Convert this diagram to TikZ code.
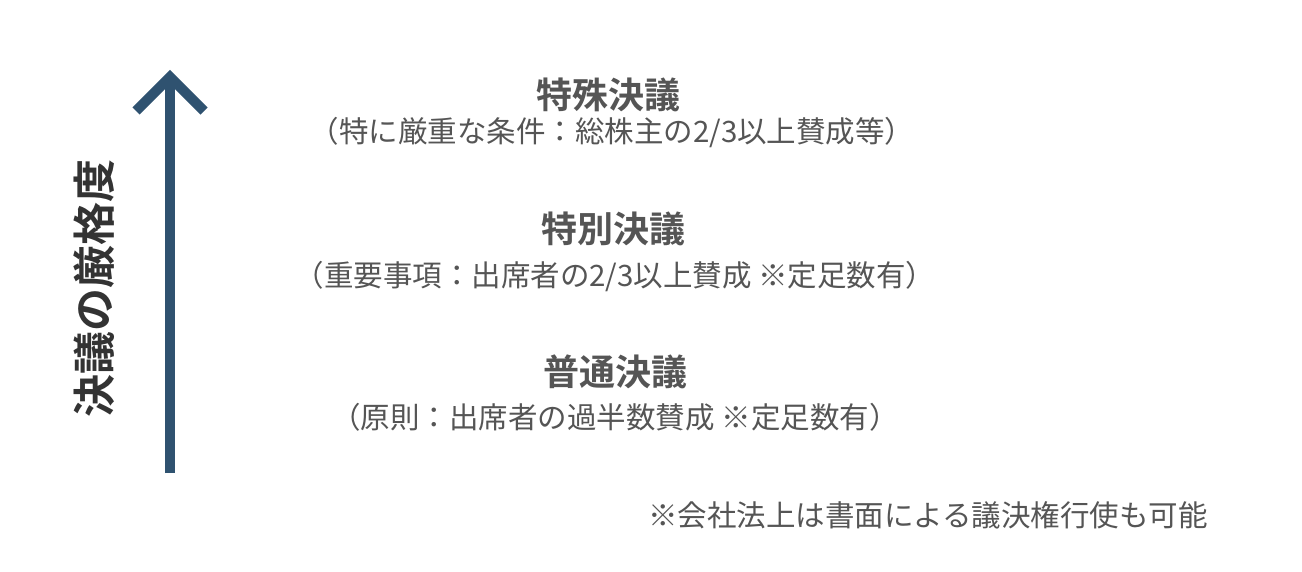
\documentclass[tikz,border=0pt]{standalone}
\usepackage{fontspec}
\newfontfamily\jp{Noto Sans CJK JP}
\newfontfamily\jpb{Noto Sans CJK JP Bold}
\definecolor{arrowblue}{HTML}{2F5270}
\definecolor{titlegray}{HTML}{555555}
\definecolor{subgray}{HTML}{555555}
\definecolor{labelgray}{HTML}{333333}
\begin{document}
\begin{tikzpicture}[x=1pt,y=1pt,
  title/.style={font=\jpb\fontsize{36}{40}\selectfont, text=titlegray, inner sep=0pt},
  sub/.style={font=\jp\fontsize{29.5}{33}\selectfont, text=subgray, inner sep=0pt},
  axis/.style={draw=arrowblue, line width=10pt}]
\useasboundingbox (0,0) rectangle (1302,-572);
\fill[white] (0,0) rectangle (1302,-572);
\coordinate (bottom) at (170,-473);
\coordinate (apex) at (170,-77);
\coordinate (barbL) at (136,-111);
\coordinate (barbR) at (204,-111);
\draw[axis] (bottom) -- (apex);
\draw[axis, line join=miter] (barbL) -- (apex) -- (barbR);
\node[font=\jpb\fontsize{43}{47}\selectfont, text=labelgray, rotate=90, inner sep=0pt] (lab) at (94,-288) {決議の厳格度};
\node[title] (t1) at (608,-95) {特殊決議};
\node[sub] (s1) at (612,-133) {（特に厳重な条件：総株主の2/3以上賛成等）};
\node[title] (t2) at (613,-229) {特別決議};
\node[sub] (s2) at (615,-277) {（重要事項：出席者の2/3以上賛成 ※定足数有）};
\node[title] (t3) at (615,-372) {普通決議};
\node[sub] (s3) at (615,-417) {（原則：出席者の過半数賛成 ※定足数有）};
\node[sub] (note) at (928,-515) {※会社法上は書面による議決権行使も可能};
\end{tikzpicture}
\end{document}
